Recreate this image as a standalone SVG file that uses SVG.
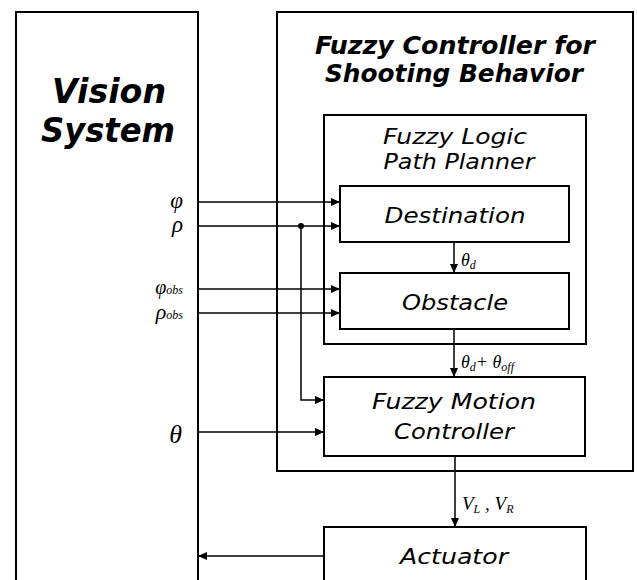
<svg xmlns="http://www.w3.org/2000/svg" width="637" height="580" viewBox="0 0 637 580">
  <style>
    .box { fill: none; stroke: #000; stroke-width: 2; }
    .wire { fill: none; stroke: #000; stroke-width: 1.5; }
    .title { font-family: "DejaVu Sans", Verdana, sans-serif; font-weight: bold; font-style: italic; text-anchor: middle; fill: #000; }
    .label { font-family: "DejaVu Sans", Verdana, sans-serif; font-style: italic; font-size: 22px; text-anchor: middle; fill: #000; }
    .math { font-family: "Liberation Serif", "Times New Roman", serif; font-style: italic; fill: #000; }
  </style>
  <defs>
    <marker id="arrow" markerUnits="userSpaceOnUse" markerWidth="10" markerHeight="9" refX="9" refY="4" orient="auto">
      <path d="M0,0 L9,4 L0,8 z" fill="#000"/>
    </marker>
  </defs>
  <rect width="637" height="580" fill="#fff"/>

  <g id="vision-system">
    <rect class="box" x="16" y="12" width="182" height="600"/>
    <text class="title" x="109" y="103" font-size="34" textLength="114" lengthAdjust="spacingAndGlyphs">Vision</text>
    <text class="title" x="108" y="142" font-size="34" textLength="134" lengthAdjust="spacingAndGlyphs">System</text>
  </g>

  <g id="fuzzy-controller">
    <rect class="box" x="277" y="12" width="356" height="459"/>
    <text class="title" x="455" y="54" font-size="24" textLength="280" lengthAdjust="spacingAndGlyphs">Fuzzy Controller for</text>
    <text class="title" x="454" y="82" font-size="24" textLength="258" lengthAdjust="spacingAndGlyphs">Shooting Behavior</text>
  </g>

  <g id="path-planner">
    <rect class="box" x="324" y="115" width="262" height="229"/>
    <text class="label" x="455" y="144" textLength="144" lengthAdjust="spacingAndGlyphs">Fuzzy Logic</text>
    <text class="label" x="459" y="169" textLength="151" lengthAdjust="spacingAndGlyphs">Path Planner</text>
  </g>

  <g id="destination">
    <rect class="box" x="340" y="186" width="229" height="56"/>
    <text class="label" x="455" y="223" textLength="141" lengthAdjust="spacingAndGlyphs">Destination</text>
  </g>

  <g id="obstacle">
    <rect class="box" x="340" y="273" width="229" height="56"/>
    <text class="label" x="455" y="310" textLength="106" lengthAdjust="spacingAndGlyphs">Obstacle</text>
  </g>

  <g id="motion-controller">
    <rect class="box" x="324" y="377" width="261" height="79"/>
    <text class="label" x="454" y="409" textLength="164" lengthAdjust="spacingAndGlyphs">Fuzzy Motion</text>
    <text class="label" x="454" y="439" textLength="120" lengthAdjust="spacingAndGlyphs">Controller</text>
  </g>

  <g id="actuator">
    <rect class="box" x="324" y="527" width="262" height="80"/>
    <text class="label" x="454" y="564" textLength="108" lengthAdjust="spacingAndGlyphs">Actuator</text>
  </g>

  <g id="connectors">
    <line class="wire" x1="198" y1="202" x2="340" y2="202" marker-end="url(#arrow)"/>
    <line class="wire" x1="198" y1="226" x2="340" y2="226" marker-end="url(#arrow)"/>
    <line class="wire" x1="198" y1="289" x2="340" y2="289" marker-end="url(#arrow)"/>
    <line class="wire" x1="198" y1="313" x2="340" y2="313" marker-end="url(#arrow)"/>
    <polyline class="wire" points="301,226 301,400 324,400" marker-end="url(#arrow)"/>
    <circle cx="301" cy="226" r="3" fill="#000"/>
    <line class="wire" x1="198" y1="432" x2="324" y2="432" marker-end="url(#arrow)"/>
    <line class="wire" x1="454" y1="242" x2="454" y2="273" marker-end="url(#arrow)"/>
    <line class="wire" x1="454" y1="329" x2="454" y2="377" marker-end="url(#arrow)"/>
    <line class="wire" x1="455" y1="456" x2="455" y2="527" marker-end="url(#arrow)"/>
    <line class="wire" x1="324" y1="556" x2="198" y2="556" marker-end="url(#arrow)"/>
  </g>

  <g id="signal-labels">
    <text class="math" x="183" y="208" font-size="23" text-anchor="end">φ</text>
    <text class="math" x="183" y="232" font-size="23" text-anchor="end">ρ</text>
    <text class="math" x="183" y="294" font-size="20" text-anchor="end">φ<tspan font-size="12">obs</tspan></text>
    <text class="math" x="183" y="319" font-size="22" text-anchor="end">ρ<tspan font-size="12">obs</tspan></text>
    <text class="math" x="182" y="443" font-size="26" text-anchor="end">θ</text>
    <text class="math" x="461" y="266" font-size="18">θ<tspan font-size="12" dy="3">d</tspan></text>
    <text class="math" x="461" y="368" font-size="18">θ<tspan font-size="12" dy="3">d</tspan><tspan dy="-3">+ θ</tspan><tspan font-size="12" dy="3">off</tspan></text>
    <text class="math" x="462" y="510" font-size="19">V<tspan font-size="12" dy="3">L</tspan><tspan dy="-3"> , V</tspan><tspan font-size="12" dy="3">R</tspan></text>
  </g>
</svg>
